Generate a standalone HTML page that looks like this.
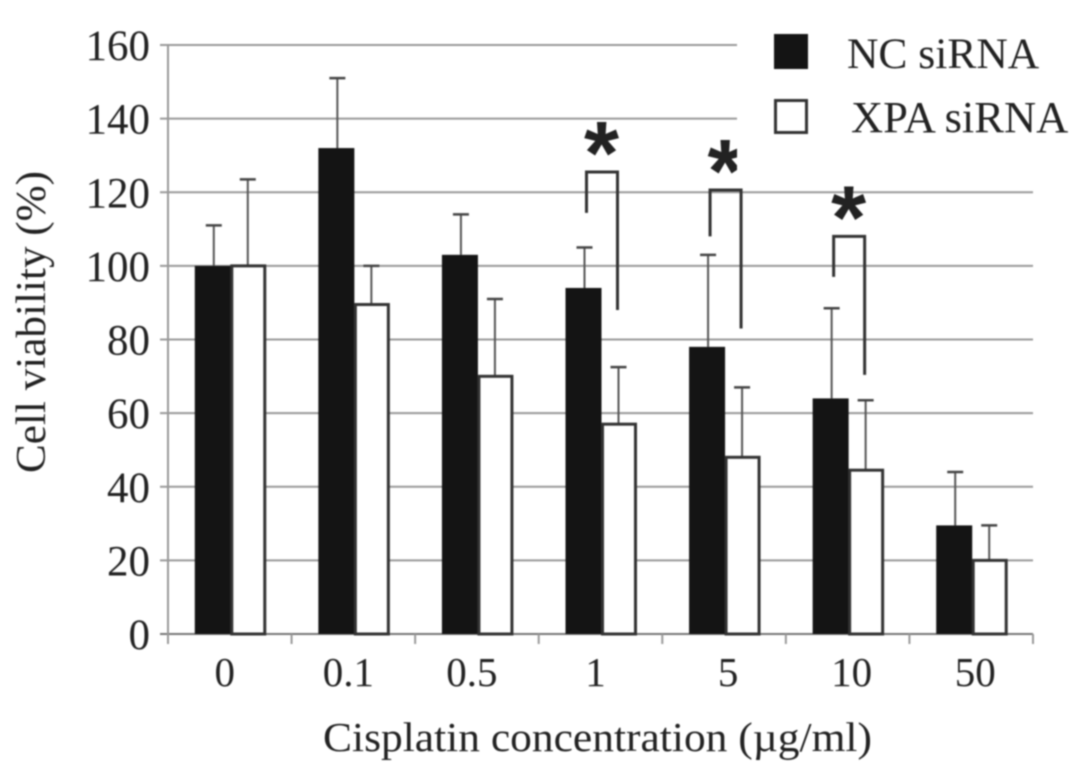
<!DOCTYPE html>
<html lang="en">
<head>
<meta charset="utf-8">
<title>Cell viability chart</title>
<style>
html,body{margin:0;padding:0;background:#fff;width:1087px;height:775px;overflow:hidden}
svg{display:block;filter:blur(.7px)}
text{font-family:"Liberation Serif",serif;fill:#222}
</style>
</head>
<body>
<svg id="chart" width="1087" height="775" viewBox="0 0 1087 775" xmlns="http://www.w3.org/2000/svg"></svg>
<script>
const categories = ['0', '0.1', '0.5', '1', '5', '10', '50'];
const ncValues = [100, 132, 103, 94, 78, 64, 29.5];
const ncErrorTops = [111, 151, 114, 105, 103, 88.5, 44];
const xpaValues = [100, 89.5, 70, 57, 48, 44.5, 20];
const xpaErrorTops = [123.5, 100, 91, 72.5, 67, 63.5, 29.5];
const yTicks = [0, 20, 40, 60, 80, 100, 120, 140, 160];
const sigCategories = ['1', '5', '10'];
const sigBracketTops = [125.5, 120.6, 108];
const sigLeftEnds = [114.4, 108, 97];
const sigRightEnds = [88, 83, 70.4];

const svg = document.getElementById('chart');
const NS = 'http://www.w3.org/2000/svg';
const plot = {left: 168, right: 1033, top: 45, bottom: 634};
const yMax = 160;
const bandW = (plot.right - plot.left) / categories.length;
const barW = 34;
const yScale = v => plot.bottom - (v / yMax) * (plot.bottom - plot.top);
const xBand = i => plot.left + bandW * i;
const xCenter = i => xBand(i) + bandW / 2;

function make(tag, attrs, text) {
  const el = document.createElementNS(NS, tag);
  for (const k in attrs) el.setAttribute(k, attrs[k]);
  if (text !== undefined) el.textContent = text;
  svg.appendChild(el);
  return el;
}

yTicks.forEach(t => {
  const isBase = t === 0;
  const line = make('line', {x1: 160, x2: plot.right, y1: yScale(t), y2: yScale(t), stroke: isBase ? '#777' : '#999', 'stroke-width': 2});
  
  
  const label = make('text', {x: 150, y: yScale(t) + 15, 'text-anchor': 'end', 'font-size': 43}, String(t));
  
  
});

const yAxis = make('line', {x1: plot.left, x2: plot.left, y1: plot.top, y2: plot.bottom + 10, stroke: '#999', 'stroke-width': 2});



categories.forEach((c, i) => {
  const tick = make('line', {x1: xBand(i + 1), x2: xBand(i + 1), y1: plot.bottom, y2: plot.bottom + 10, stroke: '#999', 'stroke-width': 2});
  
  
  const labelShift = i >= 4 ? 4 : -5;
  const label = make('text', {x: xCenter(i) + labelShift, y: 686, 'text-anchor': 'middle', 'font-size': 41}, c);
  
  
});

function errorBar(x, top, base, name) {
  const stem = make('line', {x1: x, x2: x, y1: yScale(top), y2: yScale(base), stroke: '#555', 'stroke-width': 2});
  
  
  const cap = make('line', {x1: x - 8, x2: x + 8, y1: yScale(top), y2: yScale(top), stroke: '#444', 'stroke-width': 2.5});
  
  
}

categories.forEach((c, i) => {
  const cx = xCenter(i) + 1;
  errorBar(cx - barW / 2, ncErrorTops[i], ncValues[i], 'nc-error-' + c);
  errorBar(cx + barW / 2, xpaErrorTops[i], xpaValues[i], 'xpa-error-' + c);
  const nc = make('rect', {x: cx - barW - 2, y: yScale(ncValues[i]), width: barW + 2, height: plot.bottom - yScale(ncValues[i]), fill: '#141414'});
  
  
  const xpa = make('rect', {x: cx + 1, y: yScale(xpaValues[i]), width: barW - 1, height: plot.bottom - yScale(xpaValues[i]), fill: '#fff', stroke: '#333', 'stroke-width': 3});
  
  
});

sigCategories.forEach((c, j) => {
  const i = categories.indexOf(c);
  const xL = xCenter(i) - 14;
  const xR = xCenter(i) + 17;
  const yTop = yScale(sigBracketTops[j]);
  const bracket = make('path', {d: 'M' + xL + ' ' + yScale(sigLeftEnds[j]) + 'V' + yTop + 'H' + xR + 'V' + yScale(sigRightEnds[j]), fill: 'none', stroke: '#333', 'stroke-width': 3});
  
  
  const star = make('text', {x: xL + 15, y: yTop + 12, 'text-anchor': 'middle', 'font-size': 90, 'font-weight': 'bold', style: 'font-family:"Liberation Sans",sans-serif;fill:#222'}, '*');
  
  
});

const legendBg = make('rect', {x: 737, y: 20, width: 350, height: 150, fill: '#fff'});


const swatchNc = make('rect', {x: 774, y: 34, width: 34, height: 35, fill: '#141414'});


const swatchXpa = make('rect', {x: 775.5, y: 100.5, width: 31, height: 32, fill: '#fff', stroke: '#333', 'stroke-width': 3});


const legendNc = make('text', {x: 847, y: 68, 'font-size': 43.5}, 'NC siRNA');


const legendXpa = make('text', {x: 851, y: 132, 'font-size': 44.5}, 'XPA siRNA');



const xTitle = make('text', {x: 323, y: 751, 'font-size': 41, textLength: 549, lengthAdjust: 'spacingAndGlyphs'}, 'Cisplatin concentration (\u00b5g/ml)');


const yTitle = make('text', {x: 0, y: 0, 'font-size': 42, textLength: 302, lengthAdjust: 'spacingAndGlyphs', transform: 'translate(45 473) rotate(-90)'}, 'Cell viability (%)');


</script>
</body>
</html>
